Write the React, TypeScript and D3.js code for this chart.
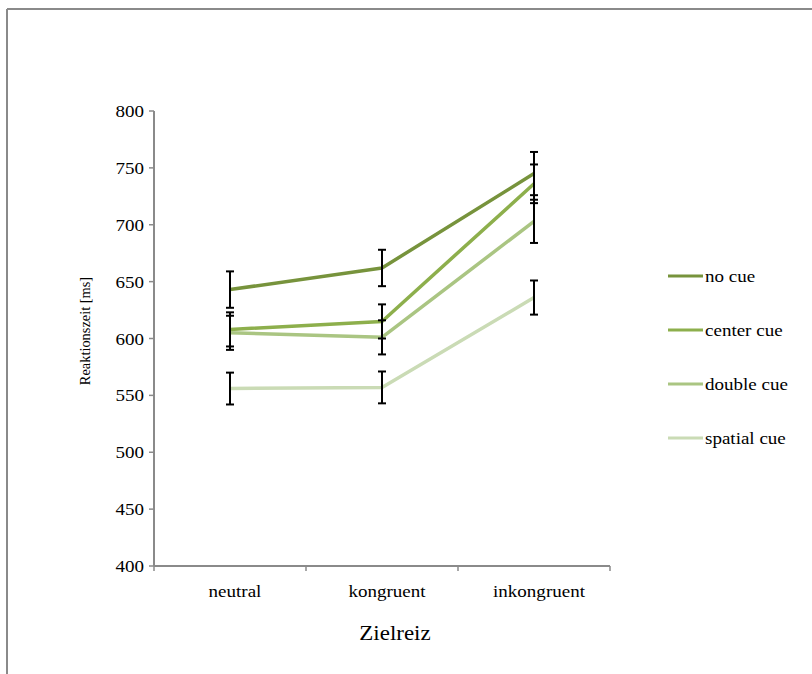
import React from "react";
import * as d3 from "d3";

const categories = ["neutral", "kongruent", "inkongruent"];
const seriesNames = ["no cue", "center cue", "double cue", "spatial cue"];
const noCue = [643, 662, 745];
const centerCue = [608, 615, 736];
const doubleCue = [605, 601, 703];
const spatialCue = [556, 557, 636];
const noCueErr = [16, 16, 19];
const centerCueErr = [15, 15, 17];
const doubleCueErr = [15, 15, 19];
const spatialCueErr = [14, 14, 15];
const yTicks = [400, 450, 500, 550, 600, 650, 700, 750, 800];
const colors = ["#77933C", "#8DAF4C", "#AAC582", "#CADBB5"];

const seriesValues = [noCue, centerCue, doubleCue, spatialCue];
const seriesErrs = [noCueErr, centerCueErr, doubleCueErr, spatialCueErr];

const SX = 1.12;
const FONT = "Liberation Serif, Times New Roman, serif";

function T(props: {
  x: number;
  y: number;
  size: number;
  anchor?: string;
  children: React.ReactNode;
}) {
  return (
    <text
      transform={`translate(${props.x},${props.y}) scale(${SX},1)`}
      textAnchor={props.anchor || "start"}
      fontSize={props.size}
      fontFamily={FONT}
      fill="#000"
    >
      {props.children}
    </text>
  );
}

export default function App() {
  const W = 812, H = 674;
  const left = 154, right = 610, top = 111, bottom = 566;
  const x = d3.scaleBand<string>().domain(categories).range([left, right]);
  const y = d3.scaleLinear().domain([400, 800]).range([bottom, top]);
  const cx = (c: string) => (x(c) as number) + x.bandwidth() / 2;
  const line = d3
    .line<number>()
    .x((_, i) => cx(categories[i]))
    .y((v) => y(v));
  const legendY = d3.scalePoint<string>().domain(seriesNames).range([276, 438]);

  return (
    <svg
      width={W}
      height={H}
      style={{ position: "absolute", left: 0, top: 0, background: "#fff" }}
      fontFamily={FONT}
    >
      {/* outer frame */}
      <line x1={7} y1={9} x2={W} y2={9} stroke="#8a8a8a" strokeWidth={2} />
      <line x1={7} y1={9} x2={7} y2={H} stroke="#8a8a8a" strokeWidth={2} />

      {/* y axis */}
      <line x1={left} y1={top} x2={left} y2={bottom} stroke="#8a8a8a" strokeWidth={2} />
      {yTicks.map((t) => (
        <g key={t}>
          <line x1={left - 5} x2={left} y1={y(t)} y2={y(t)} stroke="#8a8a8a" strokeWidth={1.5} />
          <T x={left - 10} y={y(t) + 6} size={17} anchor="end">
            {t}
          </T>
        </g>
      ))}

      {/* x axis */}
      <line x1={left} y1={bottom} x2={right} y2={bottom} stroke="#8a8a8a" strokeWidth={2} />
      {[...categories.map((c) => x(c) as number), right].map((p, i) => (
        <line key={i} x1={p} x2={p} y1={bottom} y2={bottom + 5} stroke="#8a8a8a" strokeWidth={1.5} />
      ))}
      {categories.map((c) => (
        <T key={c} x={cx(c) + 5} y={597} size={17} anchor="middle">
          {c}
        </T>
      ))}
      <T x={cx("kongruent") + 13} y={640} size={20.5} anchor="middle">
        Zielreiz
      </T>
      <text
        transform={`translate(90, 331) rotate(-90)`}
        textAnchor="middle"
        fontSize={14.4}
        fontFamily={FONT}
        fill="#000"
      >
        Reaktionszeit [ms]
      </text>

      {/* lines */}
      {seriesValues.map((vals, si) => (
        <path
          key={si}
          d={line(vals) as string}
          fill="none"
          stroke={colors[si]}
          strokeWidth={3.5}
          strokeLinejoin="round"
        />
      ))}

      {/* error bars */}
      {seriesValues.map((vals, si) =>
        vals.map((v, i) => {
          const px = cx(categories[i]);
          const e = seriesErrs[si][i];
          const y1 = y(v + e), y2 = y(v - e);
          return (
            <g key={`${si}-${i}`} stroke="#000" strokeWidth={2}>
              <line x1={px} x2={px} y1={y1} y2={y2} />
              <line x1={px - 4} x2={px + 4} y1={y1} y2={y1} />
              <line x1={px - 4} x2={px + 4} y1={y2} y2={y2} />
            </g>
          );
        })
      )}

      {/* legend */}
      {seriesNames.map((n, si) => (
        <g key={n}>
          <line
            x1={668}
            x2={703}
            y1={legendY(n)}
            y2={legendY(n)}
            stroke={colors[si]}
            strokeWidth={3}
          />
          <T x={705} y={(legendY(n) as number) + 6} size={17}>
            {n}
          </T>
        </g>
      ))}
    </svg>
  );
}
